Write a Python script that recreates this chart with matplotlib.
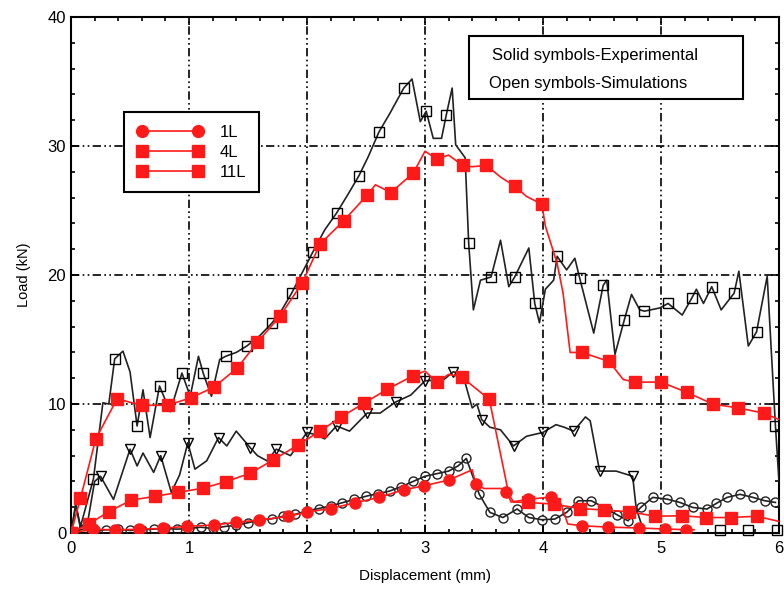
import matplotlib.pyplot as plt
from matplotlib.patches import Rectangle
from matplotlib.ticker import MultipleLocator

plt.rcParams['font.family'] = ['Liberation Sans', 'DejaVu Sans']

# ---- experimental curves (solid red symbols) ----
# 11 layers
exp11_x = [0, 0.08, 0.21, 0.39, 0.60, 0.82, 1.02, 1.21, 1.41, 1.58, 1.77, 1.96, 2.11, 2.31, 2.51,
           2.71, 2.90, 3.10, 3.32, 3.52, 3.76, 3.99, 4.33, 4.56, 4.78, 5.00, 5.22, 5.44, 5.65, 5.87]
exp11_y = [0, 2.7, 7.3, 10.4, 9.9, 9.9, 10.5, 11.3, 12.8, 14.8, 16.8, 19.4, 22.4, 24.2, 26.2,
           26.4, 27.9, 29.0, 28.5, 28.5, 26.9, 25.5, 14.0, 13.3, 11.7, 11.7, 10.9, 10.0, 9.7, 9.3]
exp11_line_x = [0, 0.08, 0.21, 0.39, 0.60, 0.82, 1.02, 1.21, 1.41, 1.58, 1.77, 1.96, 2.11, 2.31,
                2.51, 2.58, 2.71, 2.90, 3.00, 3.10, 3.20, 3.32, 3.40, 3.52, 3.64, 3.76, 3.86, 3.99,
                4.02, 4.12, 4.17, 4.23, 4.33, 4.56, 4.68, 4.78, 5.00, 5.22, 5.44, 5.65, 5.87, 6.00]
exp11_line_y = [0, 2.7, 7.3, 10.4, 9.9, 9.9, 10.5, 11.3, 12.8, 14.8, 16.8, 19.4, 22.4, 24.2,
                26.2, 27.0, 26.4, 27.9, 29.6, 29.0, 29.3, 28.5, 28.4, 28.5, 27.6, 26.9, 26.1, 25.5,
                23.8, 20.9, 18.6, 14.0, 14.0, 13.3, 11.9, 11.7, 11.7, 10.9, 10.0, 9.7, 9.3, 8.8]

# 4 layers
exp4_x = [0, 0.15, 0.32, 0.51, 0.71, 0.91, 1.12, 1.31, 1.52, 1.71, 1.92, 2.11, 2.29, 2.48, 2.68,
          2.90, 3.10, 3.31, 3.545, 3.87, 4.09, 4.31, 4.52, 4.73, 4.95, 5.18, 5.38, 5.59, 5.81]
exp4_y = [0, 0.7, 1.65, 2.55, 2.84, 3.15, 3.48, 3.97, 4.64, 5.65, 6.8, 7.9, 9.0, 10.05, 11.14,
          12.2, 11.7, 12.1, 10.36, 2.37, 2.24, 1.9, 1.78, 1.65, 1.3, 1.34, 1.2, 1.2, 1.3]
exp4_line_x = [0, 0.15, 0.32, 0.51, 0.71, 0.91, 1.12, 1.31, 1.52, 1.71, 1.92, 2.11, 2.29, 2.48,
               2.68, 2.90, 3.00, 3.10, 3.20, 3.31, 3.545, 3.71, 3.75, 3.87, 4.09, 4.31, 4.52, 4.73,
               4.95, 5.18, 5.38, 5.59, 5.81, 6.00]
exp4_line_y = [0, 0.7, 1.65, 2.55, 2.84, 3.15, 3.48, 3.97, 4.64, 5.65, 6.8, 7.9, 9.0, 10.05,
               11.14, 12.2, 12.55, 11.7, 12.3, 12.1, 10.36, 3.0, 2.4, 2.37, 2.24, 1.9, 1.78, 1.65,
               1.3, 1.34, 1.2, 1.2, 1.3, 0.9]

# 1 layer
exp1_x = [0, 0.19, 0.37, 0.58, 0.78, 0.98, 1.21, 1.40, 1.59, 1.84, 2.00, 2.20, 2.41, 2.61, 2.82,
          2.99, 3.20, 3.43, 3.69, 3.87, 4.07, 4.33, 4.55, 4.81, 5.03, 5.21]
exp1_y = [0, 0.3, 0.23, 0.3, 0.36, 0.52, 0.62, 0.83, 1.0, 1.29, 1.62, 1.9, 2.35, 2.76, 3.35,
          3.66, 4.1, 3.8, 3.15, 2.6, 2.8, 0.56, 0.46, 0.39, 0.31, 0.26]
exp1_line_x = [0, 0.19, 0.37, 0.58, 0.78, 0.98, 1.21, 1.40, 1.59, 1.84, 2.00, 2.20, 2.41, 2.61,
               2.82, 2.99, 3.20, 3.40, 3.43, 3.50, 3.65, 3.69, 3.73, 3.87, 4.07, 4.15, 4.21, 4.33,
               4.55, 4.81, 5.03, 5.21, 5.28]
exp1_line_y = [0, 0.3, 0.23, 0.3, 0.36, 0.52, 0.62, 0.83, 1.0, 1.29, 1.62, 1.9, 2.35, 2.76,
               3.35, 3.66, 4.1, 4.9, 3.8, 3.45, 3.45, 3.15, 2.4, 2.6, 2.8, 2.3, 0.7, 0.56,
               0.46, 0.39, 0.31, 0.26, 0.25]

# ---- simulated curves (open black symbols) ----
sim11_line_x = [0, 0.04, 0.08, 0.19, 0.27, 0.32, 0.37, 0.44, 0.50, 0.56, 0.61, 0.67, 0.75, 0.84,
                0.94, 1.01, 1.08, 1.12, 1.19, 1.26, 1.31, 1.40, 1.49, 1.60, 1.70, 1.78, 1.87,
                1.96, 2.05, 2.15, 2.25, 2.35, 2.44, 2.52, 2.61, 2.70, 2.82, 2.89, 2.96, 3.01,
                3.07, 3.14, 3.18, 3.23, 3.26, 3.34, 3.37, 3.41, 3.47, 3.56, 3.64, 3.71, 3.76,
                3.88, 3.93, 3.97, 4.02, 4.09, 4.12, 4.20, 4.27, 4.31, 4.43, 4.51, 4.54, 4.61,
                4.69, 4.75, 4.82, 4.86, 4.99, 5.06, 5.18, 5.26, 5.30, 5.36, 5.43, 5.51, 5.62,
                5.66, 5.74, 5.81, 5.90, 5.97, 6.00]
sim11_line_y = [0, 2.3, 0.5, 4.2, 10.1, 10.0, 13.5, 14.1, 12.5, 8.3, 11.1, 7.4, 11.4, 9.4,
                12.4, 10.6, 13.7, 12.4, 10.6, 13.45, 13.7, 14.0, 14.5, 15.3, 16.25, 17.2, 18.6,
                20.2, 21.8, 23.5, 24.8, 26.3, 27.7, 29.2, 31.1, 32.5, 34.5, 35.2, 31.9, 32.7,
                30.6, 30.6, 32.4, 34.5, 30.1, 29.1, 22.5, 17.3, 19.6, 19.85, 22.7, 19.1, 19.85,
                22.1, 17.8, 16.3, 18.9, 19.6, 21.45, 20.4, 21.3, 19.8, 15.5, 19.2, 19.6, 13.85,
                16.55, 18.5, 17.3, 17.2, 17.45, 17.8, 16.9, 18.2, 18.9, 17.8, 19.1, 17.3, 18.6,
                20.3, 14.5, 15.6, 19.9, 8.3, 4.0]
sim11_x = [0.19, 0.37, 0.56, 0.75, 0.94, 1.12, 1.31, 1.49, 1.70, 1.87, 2.05, 2.25, 2.44, 2.61,
           2.82, 3.01, 3.18, 3.37, 3.56, 3.76, 3.93, 4.12, 4.31, 4.51, 4.69, 4.86, 5.06, 5.26,
           5.43, 5.62, 5.81, 5.97]
sim11_y = [4.2, 13.5, 8.3, 11.4, 12.4, 12.4, 13.7, 14.5, 16.25, 18.6, 21.8, 24.8, 27.7, 31.1,
           34.5, 32.7, 32.4, 22.5, 19.85, 19.85, 17.8, 21.45, 19.8, 19.2, 16.55, 17.2, 17.8, 18.2,
           19.1, 18.6, 15.6, 8.3]
# squares sitting on the axis at large displacement
sim11_tail_x = [5.50, 5.74, 5.98]
sim11_tail_y = [0.2, 0.2, 0.2]

sim4_line_x = [0, 0.04, 0.08, 0.14, 0.20, 0.25, 0.36, 0.50, 0.56, 0.61, 0.70, 0.76, 0.85, 0.92,
               0.99, 1.05, 1.15, 1.25, 1.32, 1.40, 1.52, 1.58, 1.66, 1.74, 1.86, 2.00, 2.08, 2.15,
               2.25, 2.36, 2.51, 2.62, 2.75, 2.88, 3.00, 3.16, 3.24, 3.32, 3.40, 3.44, 3.48, 3.55,
               3.64, 3.75, 3.86, 4.00, 4.11, 4.18, 4.26, 4.36, 4.40, 4.48, 4.62, 4.76, 4.79, 4.83]
sim4_line_y = [0, 2.1, 0.4, 0.8, 4.0, 4.4, 2.6, 6.5, 5.2, 6.2, 4.7, 6.0, 3.15, 4.5,
               7.0, 4.95, 5.6, 7.4, 6.75, 7.9, 6.6, 6.0, 5.6, 6.5, 6.0, 7.8, 7.6, 7.3,
               8.3, 7.9, 9.3, 9.3, 10.15, 10.7, 11.8, 11.9, 12.5, 12.3, 9.7, 10.0, 8.8, 8.2,
               8.0, 6.75, 7.5, 7.8, 8.4, 8.2, 7.9, 9.0, 8.7, 4.8, 4.8, 4.4, 1.9, 0.8]
sim4_x = [0.25, 0.50, 0.76, 0.99, 1.25, 1.52, 1.74, 2.00, 2.25, 2.51, 2.75, 3.00, 3.24, 3.48,
          3.75, 4.00, 4.26, 4.48, 4.76]
sim4_y = [4.4, 6.5, 6.0, 7.0, 7.4, 6.6, 6.5, 7.8, 8.3, 9.3, 10.15, 11.8, 12.5, 8.8,
          6.75, 7.8, 7.9, 4.8, 4.4]

sim1_x = [0, 0.1, 0.2, 0.3, 0.4, 0.5, 0.6, 0.7, 0.8, 0.9, 1.0, 1.1, 1.2, 1.3, 1.4, 1.5, 1.6,
          1.7, 1.8, 1.9, 2.0, 2.1, 2.2, 2.3, 2.4, 2.5, 2.6, 2.7, 2.8, 2.9, 3.0, 3.1, 3.2, 3.28,
          3.35, 3.46, 3.55, 3.66, 3.78, 3.88, 3.99, 4.10, 4.20, 4.30, 4.41, 4.54, 4.63, 4.72,
          4.83, 4.93, 5.05, 5.16, 5.27, 5.39, 5.47, 5.56, 5.67, 5.78, 5.88, 5.97]
sim1_y = [0, 0.3, 0.2, 0.25, 0.3, 0.2, 0.25, 0.3, 0.35, 0.3, 0.35, 0.45, 0.35, 0.5, 0.6, 0.8,
          1.0, 1.1, 1.3, 1.45, 1.7, 1.9, 2.1, 2.35, 2.6, 2.85, 3.05, 3.25, 3.6, 4.0, 4.4, 4.6,
          4.8, 5.2, 5.78, 3.0, 1.6, 1.2, 1.86, 1.2, 1.03, 1.08, 1.6, 2.5, 2.5, 1.86, 1.4, 0.95,
          2.0, 2.76, 2.63, 2.37, 1.98, 1.86, 2.3, 2.76, 3.0, 2.76, 2.5, 2.37]

RED = '#ff1a1a'
GRID_DASH = (0, (5, 2, 1, 2, 1, 2))

fig, ax = plt.subplots(figsize=(7.84, 5.90), dpi=100)
fig.subplots_adjust(left=0.0906, right=0.9936, bottom=0.0966, top=0.971)

# simulations first so the red experimental data sit on top
ax.plot(sim11_line_x, sim11_line_y, color='#222222', lw=1.2, zorder=3)
ax.plot(sim11_x, sim11_y, ls='none', marker='s', ms=7, mfc='none', mec='black', mew=1.0, zorder=3)
ax.plot(sim11_tail_x, sim11_tail_y, ls='none', marker='s', ms=7, mfc='none', mec='black',
        mew=1.0, zorder=3, clip_on=False)
ax.plot(sim4_line_x, sim4_line_y, color='#222222', lw=1.2, zorder=3)
ax.plot(sim4_x, sim4_y, ls='none', marker='v', ms=6.5, mfc='none', mec='black', mew=1.0, zorder=3)
ax.plot(sim1_x, sim1_y, color='#222222', lw=1.2, marker='o', ms=6.5, mfc='none', mec='#222222',
        mew=1.0, zorder=3)

ax.plot(exp11_line_x, exp11_line_y, color=RED, lw=1.2, zorder=4)
ax.plot(exp11_x, exp11_y, ls='none', marker='s', ms=8.5, color=RED, zorder=4)
ax.plot(exp4_line_x, exp4_line_y, color=RED, lw=1.2, zorder=4)
ax.plot(exp4_x, exp4_y, ls='none', marker='s', ms=8.5, color=RED, zorder=4)
ax.plot(exp1_line_x, exp1_line_y, color=RED, lw=1.2, zorder=4)
ax.plot(exp1_x, exp1_y, ls='none', marker='o', ms=8, color=RED, zorder=4)

# legend handles (red line with a symbol at each end)
h1, = ax.plot([], [], color=RED, lw=1.2, marker='o', ms=8.5)
h4, = ax.plot([], [], color=RED, lw=1.2, marker='s', ms=9)
h11, = ax.plot([], [], color=RED, lw=1.2, marker='s', ms=9)
leg = ax.legend([h1, h4, h11], ['1L', '4L', '11L'], loc='upper left',
                bbox_to_anchor=(0.075, 0.816), numpoints=2, handlelength=4.0,
                handletextpad=1.0, labelspacing=0.3, fontsize=12, borderpad=0.75,
                borderaxespad=0, fancybox=False, framealpha=1, edgecolor='black')
leg.get_frame().set_linewidth(1.5)
leg.set_zorder(6)

# note box about symbol meaning
ax.add_patch(Rectangle((0.562, 0.841), 0.387, 0.122, transform=ax.transAxes,
                       facecolor='white', edgecolor='black', lw=1.5, zorder=6))
ax.text(0.595, 0.926, 'Solid symbols-Experimental', transform=ax.transAxes,
        fontsize=12, va='center', ha='left', zorder=7)
ax.text(0.590, 0.872, 'Open symbols-Simulations', transform=ax.transAxes,
        fontsize=12, va='center', ha='left', zorder=7)

ax.set_xlim(0, 6)
ax.set_ylim(0, 40)
ax.xaxis.set_major_locator(MultipleLocator(1))
ax.xaxis.set_minor_locator(MultipleLocator(0.2))
ax.yaxis.set_major_locator(MultipleLocator(10))
ax.yaxis.set_minor_locator(MultipleLocator(2))
ax.tick_params(which='both', direction='in', top=True, right=True, width=1.2, labelsize=12)
ax.tick_params(which='major', length=6)
ax.tick_params(axis='x', which='major', pad=6)
ax.tick_params(which='minor', length=3)
ax.grid(True, which='major', color='black', lw=1.2, linestyle=GRID_DASH)
ax.set_axisbelow(True)
for sp in ax.spines.values():
    sp.set_linewidth(1.5)

ax.set_xlabel('Displacement (mm)', fontsize=11, labelpad=9)
ax.set_ylabel('Load (kN)', fontsize=10.5, labelpad=12)

fig.savefig('out.png', dpi=100)
